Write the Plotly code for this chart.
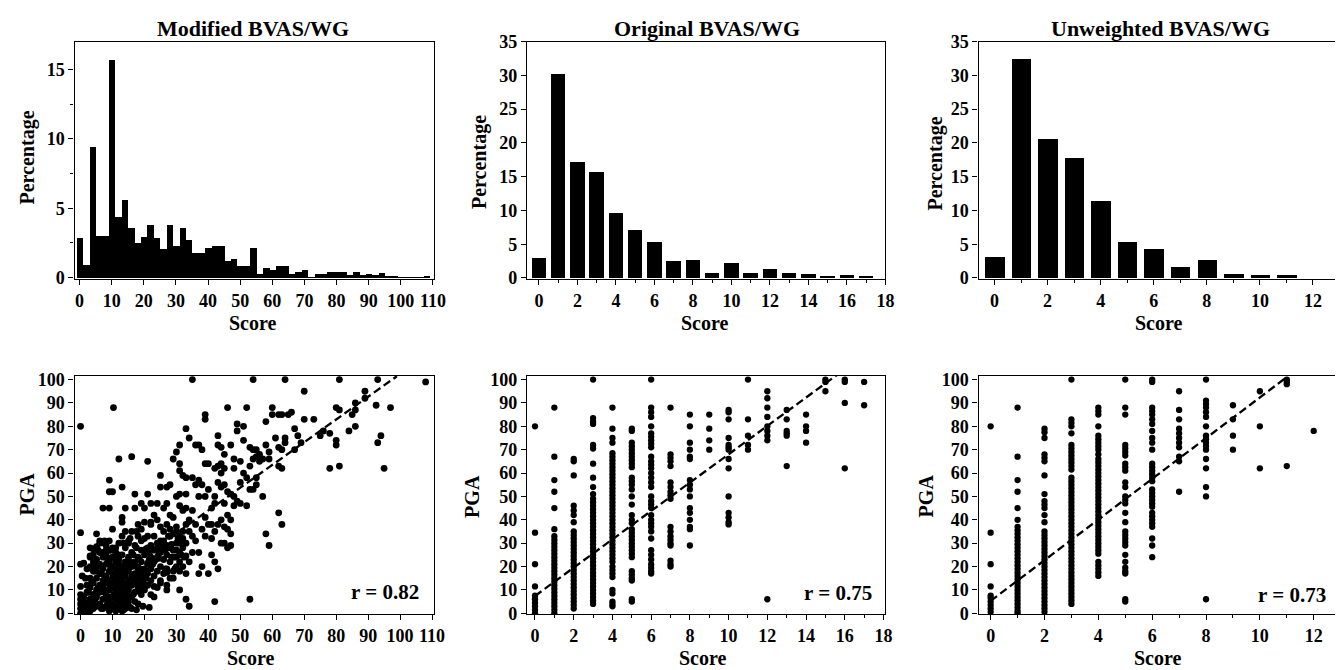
"""Distribution of three BVAS/WG scores and their correlation with PGA."""

import plotly.graph_objects as go

W, H = 1343, 670
# measured mapping of the captured page: shown = scale * figure_px + offset
SX, TX = 0.99, 8.5
SY, TY = 0.969, 18.4

# ---- histogram data (percentage of visits) ----
mod_bins = [0, 2, 4, 6, 8, 10, 12, 14, 16, 18, 20, 22, 24, 26, 28, 30, 32, 34, 36, 38,
            40, 42, 44, 46, 48, 50, 52, 54, 56, 58, 60, 62, 64, 66, 68, 70, 72, 74, 76, 78,
            80, 82, 84, 86, 88, 90, 92, 94, 96, 98, 100, 102, 104, 106, 108]
mod_pct = [2.86, 0.94, 9.45, 3.0, 3.0, 15.7, 4.4, 5.65, 3.58, 2.5, 2.98, 3.82, 2.86, 2.07,
           3.82, 2.33, 3.58, 2.72, 1.78, 1.78, 2.14, 2.31, 2.31, 1.2, 1.35, 0.89, 0.89, 2.14,
           0.3, 0.72, 0.55, 0.84, 0.84, 0.3, 0.4, 0.55, 0.05, 0.31, 0.31, 0.42, 0.42, 0.42,
           0.2, 0.4, 0.18, 0.32, 0.18, 0.38, 0.16, 0.16, 0.04, 0.04, 0.04, 0.04, 0.15]

orig_bins = [0, 1, 2, 3, 4, 5, 6, 7, 8, 9, 10, 11, 12, 13, 14, 15, 16, 17]
orig_pct = [3.05, 30.3, 17.3, 15.8, 9.7, 7.2, 5.4, 2.5, 2.65, 0.8, 2.2, 0.8, 1.45, 0.8,
            0.6, 0.35, 0.5, 0.3]

unw_bins = [0, 1, 2, 3, 4, 5, 6, 7, 8, 9, 10, 11]
unw_pct = [3.1, 32.5, 20.6, 17.8, 11.4, 5.4, 4.3, 1.6, 2.65, 0.6, 0.5, 0.5]

# ---- scatter data: modified score vs PGA ----
mod_score = [
    0, 0, 0, 0, 10.3, 35, 54, 64, 81, 93, 108,
    70, 89, 89, 92.5, 97, 86, 86, 85, 80, 81, 86, 84,
    76, 75, 78, 80, 80, 78, 81, 93, 94, 95, 73, 70,
    68, 67, 69, 67, 65, 64, 63, 62, 63, 60, 61, 60,
    58, 58, 59, 59, 62, 63, 62, 63, 58, 59, 57,
    52, 46, 49, 49, 51, 51, 53, 54, 55, 54, 56, 53,
    50, 48, 47, 45, 44, 43, 43, 44, 45, 43, 42, 39,
    40, 39, 39, 33, 34, 36, 37, 38, 31, 30, 29, 31,
    31, 32, 35, 33, 37, 38, 40, 39, 42, 43, 44, 45,
    47, 48, 49, 50, 48, 52, 53, 55, 55, 54, 44, 45,
    43, 41, 39, 40, 38, 39, 41, 42, 44, 45, 46, 46,
    47, 41, 42, 43, 40, 37, 38, 37, 35, 34, 33, 35,
    36, 33, 34, 35, 33, 31, 32, 30, 31, 33, 28, 27,
    25, 25, 24, 22, 21, 21, 23, 22, 24, 25, 27, 28,
    29, 30, 31, 32, 30, 28, 27, 29, 31, 32, 33, 31,
    33, 34, 42, 53, 12, 16, 9, 9, 10, 13, 17, 19, 7,
    9, 14, 13, 13, 17, 20, 22, 19, 18, 19, 21, 10,
    5, 6, 3, 9, 8, 11, 12,
    62, 66, 64, 55, 56, 57, 41, 42, 36, 37, 46, 47, 45, 44, 46, 50, 51, 52, 48, 47,
    28, 26, 27, 29, 30, 34, 36, 20, 18, 16, 15, 23, 25, 26, 24, 22, 26,
    0, 0, 0, 0, 0, 1, 1, 1, 1, 2, 2, 2, 2, 2, 3, 3, 3, 3, 3, 3, 3,
    4, 4, 4, 4, 4, 4, 4, 5, 5, 5, 5, 5, 5, 6, 6, 6, 6, 6, 6,
    7, 7, 7, 7, 7, 7, 8, 8, 8, 8, 8, 8, 8, 9, 9, 9, 9, 9, 9, 9,
    10, 10, 10, 10, 10, 10, 10, 10, 10, 11, 11, 11, 11, 11, 11, 11, 11, 11, 11,
    12, 12, 12, 12, 12, 12, 12, 12, 12, 12, 13, 13, 13, 13, 13, 13, 13, 13,
    14, 14, 14, 14, 14, 14, 14, 14, 15, 15, 15, 15, 15, 15, 15,
    16, 16, 16, 16, 16, 17, 17, 17, 17, 17, 18, 18, 18, 18, 18,
    19, 19, 19, 19, 19, 20, 20, 20, 20, 20, 21, 21, 21, 21, 22, 22, 22, 22,
    23, 23, 23, 24, 24, 24, 24, 25, 25, 25, 26, 26, 26, 27, 27, 27,
    28, 28, 28, 29, 29, 30, 30, 30, 31, 31, 32, 32, 27, 23, 17, 15, 14, 13, 16,
    1.5, 2.5, 3.5, 4.5, 5.5, 6.5, 7.5, 8.5, 9.5, 10.5, 11.5, 12.5, 13.5, 14.5,
    15.5, 16.5, 17.5, 18.5, 19.5, 20.5, 21.5, 22.5, 2.5, 4.5, 6.5, 8.5, 10.5,
    12.5, 14.5, 16.5, 18.5, 20.5, 22.5, 24.5, 26.5, 28.5, 5.5, 7.5, 9.5, 11.5,
    13.5, 15.5, 17.5, 19.5, 21.5, 23.5, 25.5, 27.5, 29.5, 31.5,
    7.5, 9.5, 11.5, 13.5, 15.5, 17.5, 9.5, 11.5, 13.5, 10.5, 12.5, 14.5, 16.5,
    1.5, 3.5, 5.5, 7.5, 9.5, 11.5, 13.5, 15.5, 17.5, 19.5, 21.5, 2.5, 4.5, 6.5,
    8.5, 10.5, 12.5, 14.5, 16.5, 18.5, 20.5, 3, 5, 7, 9, 11, 13, 15, 17, 19,
    21, 23, 25, 27, 29, 31, 33, 20.5, 22.5, 24.5, 26.5, 28.5, 30.5, 32.5,
    0.5, 1, 2, 3, 4, 6, 8, 10, 12, 14, 16, 18, 11, 13, 15, 9, 7, 5,
]
mod_pga = [
    80, 34.5, 21, 11.5, 88, 100, 100, 100, 100, 100, 99,
    95, 95, 92, 89, 88, 90, 87, 85, 88, 87, 80, 78,
    78, 76, 77, 74, 72, 62, 63, 73, 76, 62, 83, 83,
    76, 79, 73, 70, 85, 75, 70, 85, 85, 88, 75, 85,
    82, 72, 69, 66, 63, 62, 43, 38, 34, 29, 50,
    88, 88, 81, 78, 80, 74, 71, 70, 67, 66, 65, 63,
    65, 66, 72, 68, 71, 72, 76, 64, 62, 63, 62, 64,
    64, 85, 83, 79, 75, 72, 72, 70, 72, 69, 66, 64,
    61, 59, 58, 58, 57, 55, 53, 50, 50, 56, 54, 55,
    51, 50, 48, 47, 46, 46, 53, 58, 55, 53, 40, 37,
    38, 38, 41, 38, 36, 33, 32, 35, 30, 30, 36, 28,
    29, 25, 22, 19, 17, 17, 20, 26, 26, 22, 30, 33,
    31, 38, 40, 44, 45, 46, 44, 50, 51, 51, 55, 54,
    54, 59, 47, 47, 51, 65, 42, 38, 40, 37, 38, 36,
    34, 30, 33, 35, 27, 28, 25, 24, 22, 20, 17, 10,
    6, 3, 5, 6, 66, 67, 57, 52, 52, 54, 51, 47, 45,
    45, 45, 41, 39, 45, 39, 39, 36, 33, 31, 33, 36,
    34, 30, 28, 31, 27, 28, 25,
    71, 86, 73, 70, 68, 66, 45, 47, 55, 50, 42, 40, 47, 60, 52, 56, 60, 58, 62, 34,
    42, 45, 47, 41, 37, 35, 38, 45, 38, 35, 31, 33, 31, 35, 28, 29, 28,
    0, 2, 4, 6, 8, 1, 3, 5, 7, 0, 2, 4, 9, 12, 1, 3, 6, 11, 15, 20, 24,
    2, 5, 8, 13, 18, 22, 25, 3, 7, 10, 15, 19, 23, 4, 9, 12, 17, 21, 26,
    2, 6, 11, 14, 19, 24, 3, 8, 13, 16, 21, 25, 29, 1, 5, 10, 14, 18, 22, 27,
    2, 4, 7, 11, 15, 17, 20, 24, 28, 1, 3, 6, 9, 12, 14, 16, 19, 22, 26,
    2, 5, 8, 10, 13, 15, 18, 21, 23, 30, 4, 7, 11, 14, 17, 20, 25, 33,
    6, 9, 12, 16, 19, 22, 28, 35, 5, 10, 14, 18, 21, 24, 30,
    7, 12, 15, 20, 26, 9, 13, 17, 22, 29, 4, 11, 15, 19, 24,
    8, 13, 17, 22, 27, 10, 15, 19, 25, 32, 12, 17, 21, 28, 14, 19, 24, 8,
    16, 22, 27, 11, 18, 24, 30, 14, 20, 26, 17, 23, 31, 12, 19, 29,
    15, 22, 33, 18, 27, 20, 24, 35, 26, 30, 28, 32, 10, 7, 5, 3, 2, 1, 2,
    4, 9, 14, 18, 21, 11, 16, 6, 20, 13, 17, 9, 19, 8, 12, 16, 20, 11, 14, 18,
    23, 21, 12, 20, 17, 23, 8, 18, 21, 25, 19, 15, 22, 26, 19, 24, 27, 30,
    20, 25, 16, 22, 28, 14, 26, 23, 29, 33, 19, 25, 31, 27, 24, 30, 32, 35,
    3, 6, 4, 8, 5, 9, 13, 15, 19, 11, 9, 7, 10,
    1.5, 2.5, 1.5, 3, 2.5, 4, 6, 2, 4.5, 7, 9, 6.5, 8, 9.5, 12, 5.5, 8.5, 10.5,
    12.5, 14, 16.5, 13.5, 16, 18.5, 21.5, 11.5, 13, 17.5, 15, 18, 24.5, 27.5, 21,
    23.5, 27, 29.5, 32, 24, 16, 21.5, 19, 24.5, 27.5, 31,
    10, 14, 17, 19, 16, 19.5, 23, 17.5, 20.5, 23.5, 26, 28.5, 6, 8, 10, 24, 28, 30,
]

# ---- scatter data: original score vs PGA (PGA values per integer score) ----
orig_pga_by_score = [
    [80, 34.5, 21, 11.5, 7.5, 6, 4.5, 3, 1.5, 0],
    [88, 67, 57, 52, 45, 36, 33, 31.5, 30, 28.5, 27, 25.5, 24, 22.5, 21, 19.5, 18, 16.5,
     15, 13.5, 12, 10.5, 9, 7.5, 6, 4.5, 3, 1.5, 0],
    [66, 65, 59, 46, 44, 42, 39, 35, 33.5, 32, 30.5, 29, 27.5, 26, 24.5, 23, 21.5, 20,
     18.5, 17, 15.5, 14, 12.5, 11, 9.5, 8, 6.5, 5, 3.5, 2],
    [100, 83.5, 82, 81, 72, 70.5, 64, 58, 54, 51, 49, 47.5, 46, 44.5, 43, 41.5, 40, 38.5,
     37, 35.5, 34, 32.5, 31, 29.5, 28, 26.5, 25, 23.5, 22, 20.5, 19, 17.5, 16, 14.5, 13,
     11.5, 10, 8.5, 7, 5.5, 4],
    [88, 79, 75, 73, 68.5, 67, 65.5, 64, 62.5, 61, 59.5, 58, 56.5, 55, 53.5, 52, 50.5, 49,
     47.5, 46, 44.5, 43, 41.5, 40, 38.5, 37, 35.5, 34, 32.5, 31, 29.5, 28, 26.5, 25, 23.5,
     22, 20, 18.5, 17, 15.5, 10, 8.5, 5, 4, 3],
    [79, 78, 73, 71.5, 70, 68.5, 67, 65.5, 64, 62.5, 58, 56.5, 55, 53, 50, 46.5, 42, 40,
     38.5, 36, 34.5, 33, 31.5, 30, 28.5, 27, 25.5, 24, 18, 16.5, 15, 14, 6, 5],
    [100, 88, 86, 84, 80, 77, 75.5, 74, 72.5, 71, 67, 65, 63.5, 62, 60, 58, 56, 54, 50,
     48, 46.5, 45, 42, 40, 38.5, 37, 35, 32, 27, 25, 23, 21, 19.5, 18, 17],
    [88, 68, 66.5, 65, 63, 56, 54, 52, 50.5, 49, 37, 35, 33, 31.5, 30, 29, 22.5, 21, 20],
    [85, 80, 73, 70, 67, 66, 57, 55, 53, 50, 45, 43, 40, 37, 36, 29],
    [85, 79, 74, 70],
    [87, 86, 83, 75, 72, 71, 70, 66, 62, 50, 43, 41, 39, 38],
    [100, 83, 76, 72, 70],
    [95, 92, 88, 84, 80, 78, 76, 74, 6],
    [87, 83, 78, 77, 76, 63],
    [85, 80, 78, 73],
    [100, 99, 95],
    [100, 99, 90, 62],
    [99, 89],
]

# ---- scatter data: unweighted score vs PGA ----
unw_pga_by_score = [
    [80, 34.5, 21, 11.5, 7.5, 6.5, 5, 3.5, 2, 0.5],
    [88, 67, 57, 52, 45, 40, 37, 35.5, 34, 32.5, 31, 29.5, 28, 26.5, 25, 23.5, 22, 20.5,
     19, 17.5, 16, 14.5, 13, 11.5, 10, 8.5, 7, 5.5, 4, 2.5, 1, 0],
    [79, 77.5, 75, 68, 66.5, 65, 59, 51, 48, 46.5, 45, 42, 39, 35, 33.5, 32, 30.5, 29,
     27.5, 26, 24.5, 23, 21.5, 20, 18.5, 17, 15.5, 14, 12.5, 11, 9.5, 8, 6.5, 5, 3.5, 2,
     0.5],
    [100, 83, 81.5, 80, 77, 72, 70.5, 69, 67.5, 66, 64.5, 63, 61.5, 58, 56.5, 55, 53.5,
     52, 50.5, 49, 47.5, 46, 44.5, 43, 41.5, 40, 38.5, 37, 35.5, 34, 32.5, 31, 29.5, 28,
     26.5, 25, 23.5, 22, 20.5, 19, 17.5, 16, 14.5, 13, 11.5, 10, 8.5, 7, 5.5, 4],
    [88, 86.5, 85, 80, 76, 74.5, 73, 71.5, 70, 68, 66, 64.5, 63, 61.5, 60, 58.5, 57, 55.5,
     54, 52.5, 51, 49.5, 48, 46.5, 45, 43.5, 42, 40.5, 39, 37.5, 36, 34.5, 33, 31.5, 30,
     28.5, 27, 25.5, 22, 20.5, 19, 17.5, 16],
    [100, 88, 85, 72, 70.5, 69, 67.5, 64, 62.5, 61, 56, 54, 50, 48.5, 47, 43, 39, 35,
     33.5, 32, 30.5, 29, 25, 22, 19.5, 18, 17, 6, 5],
    [100, 99, 88, 86.5, 85, 83, 81, 78, 75, 73, 70, 64, 62.5, 61, 59.5, 58, 56.5, 53,
     51.5, 50, 48.5, 47, 45.5, 43, 41.5, 40, 38.5, 37, 32, 29, 24],
    [95, 87, 83, 79, 77, 75, 73, 71, 67, 65, 52],
    [100, 91, 89.5, 88, 86, 84, 80, 76, 74.5, 73, 71.5, 70, 66, 62, 54, 50, 6],
    [89, 83, 76, 70],
    [95, 80, 62],
    [100, 99, 98, 63],
    [78],
]

# regression lines (score endpoints, fitted PGA)
mod_fit_x, mod_fit_y = [0, 99], [5.1, 101.4]
orig_fit_x, orig_fit_y = [0, 15.6], [7.4, 102]
unw_fit_x, unw_fit_y = [0, 10.95], [5.3, 100.6]

titles = ["Modified BVAS/WG", "Original BVAS/WG", "Unweighted BVAS/WG"]
r_labels = ["r = 0.82", "r = 0.75", "r = 0.73"]


def flatten(by_score):
    xs, ys = [], []
    for score, vals in enumerate(by_score):
        xs += [score] * len(vals)
        ys += vals
    return xs, ys


# helpers: target pixel in the shown picture -> paper fraction
def fx(px):
    return min(max((px - TX) / SX / W, 0), 1)


def fy(py):
    return min(max(1 - (py - TY) / SY / H, 0), 1)


FONT = "Liberation Serif"
col_px = [(75, 434), (527, 885), (978, 1337)]
row_px = [(42, 279), (375, 613)]

fig = go.Figure()

bar_style = dict(marker=dict(color="black", line=dict(width=0)), showlegend=False)
fig.add_trace(go.Bar(x=mod_bins, y=mod_pct, width=2.0, xaxis="x", yaxis="y", **bar_style))
fig.add_trace(go.Bar(x=orig_bins, y=orig_pct, width=0.75, xaxis="x2", yaxis="y2", **bar_style))
fig.add_trace(go.Bar(x=unw_bins, y=unw_pct, width=0.73, xaxis="x3", yaxis="y3", **bar_style))

orig_x, orig_y = flatten(orig_pga_by_score)
unw_x, unw_y = flatten(unw_pga_by_score)
for xs, ys, lx, ly, n, ms in [
    (mod_score, mod_pga, mod_fit_x, mod_fit_y, 4, 6.8),
    (orig_x, orig_y, orig_fit_x, orig_fit_y, 5, 6.3),
    (unw_x, unw_y, unw_fit_x, unw_fit_y, 6, 6.3),
]:
    fig.add_trace(go.Scatter(x=xs, y=ys, mode="markers", showlegend=False,
                             marker=dict(color="black", size=ms),
                             xaxis=f"x{n}", yaxis=f"y{n}"))
    fig.add_trace(go.Scatter(x=lx, y=ly, mode="lines", showlegend=False,
                             line=dict(color="black", width=2.3, dash="8px,4px"),
                             xaxis=f"x{n}", yaxis=f"y{n}"))

tick_font = dict(family=FONT, size=18, color="black", weight="bold")
axis_base = dict(showline=True, linecolor="black", linewidth=1.3, mirror=True,
                 ticks="outside", ticklen=5, tickwidth=1.3, tickcolor="black",
                 showgrid=False, zeroline=False, tickfont=tick_font)

x_ranges = [[-1.56, 110.3], [-0.62, 18], [-0.6, 12.94],
            [-1.875, 110.6], [-0.41, 18.1], [-0.45, 12.9]]
x_dticks = [10, 2, 2, 10, 2, 2]
y_ranges = [[-0.12, 17], [-0.2, 35], [-0.2, 35], [-0.4, 101.7], [-0.4, 101.7], [-0.4, 101.7]]
y_dticks = [5, 5, 5, 10, 10, 10]

layout = dict(width=W, height=H, margin=dict(l=0, r=0, t=0, b=0),
              paper_bgcolor="white", plot_bgcolor="white", bargap=0,
              font=dict(family=FONT, color="black"))
for i in range(6):
    row, col = divmod(i, 3)
    suffix = "" if i == 0 else str(i + 1)
    left, right = col_px[col]
    top, bottom = row_px[row]
    xa = dict(axis_base, domain=[fx(left), fx(right)], range=x_ranges[i],
              tick0=0, dtick=x_dticks[i], anchor=f"y{suffix}")
    ya = dict(axis_base, domain=[fy(bottom), fy(top)], range=y_ranges[i],
              tick0=0, dtick=y_dticks[i], anchor=f"x{suffix}")
    if i in (1, 2, 4, 5):
        xa["minor"] = dict(ticks="outside", dtick=1, ticklen=3, tickcolor="black")
    if i == 0:
        ya["minor"] = dict(ticks="outside", dtick=2.5, ticklen=3, tickcolor="black")
    layout[f"xaxis{suffix}"] = xa
    layout[f"yaxis{suffix}"] = ya

fig.update_layout(**layout)


def label(text, x, y, size, angle=0):
    fig.add_annotation(text=text, x=fx(x), y=min(fy(y), 0.984), xref="paper", yref="paper",
                       xanchor="center", yanchor="middle", showarrow=False,
                       textangle=angle,
                       font=dict(family=FONT, size=size, color="black", weight="bold"))


for t, cx in zip(titles, [253, 707, 1160]):
    label(t, cx, 17, 22)
for cx in [253, 705, 1158]:
    label("Score", cx, 323, 20)
for cx in [251, 703, 1157]:
    label("Score", cx, 657, 20)
for cx, cy in [(28, 158), (480, 162), (935, 163)]:
    label("Percentage", cx, cy, 20, -90)
for cx, cy in [(27, 493), (472, 495), (925, 495)]:
    label("PGA", cx, cy, 20, -90)
for t, (cx, cy) in zip(r_labels, [(385, 591), (838, 592), (1291, 594)]):
    label(t, cx, cy, 21)

fig.write_html("out.html")
